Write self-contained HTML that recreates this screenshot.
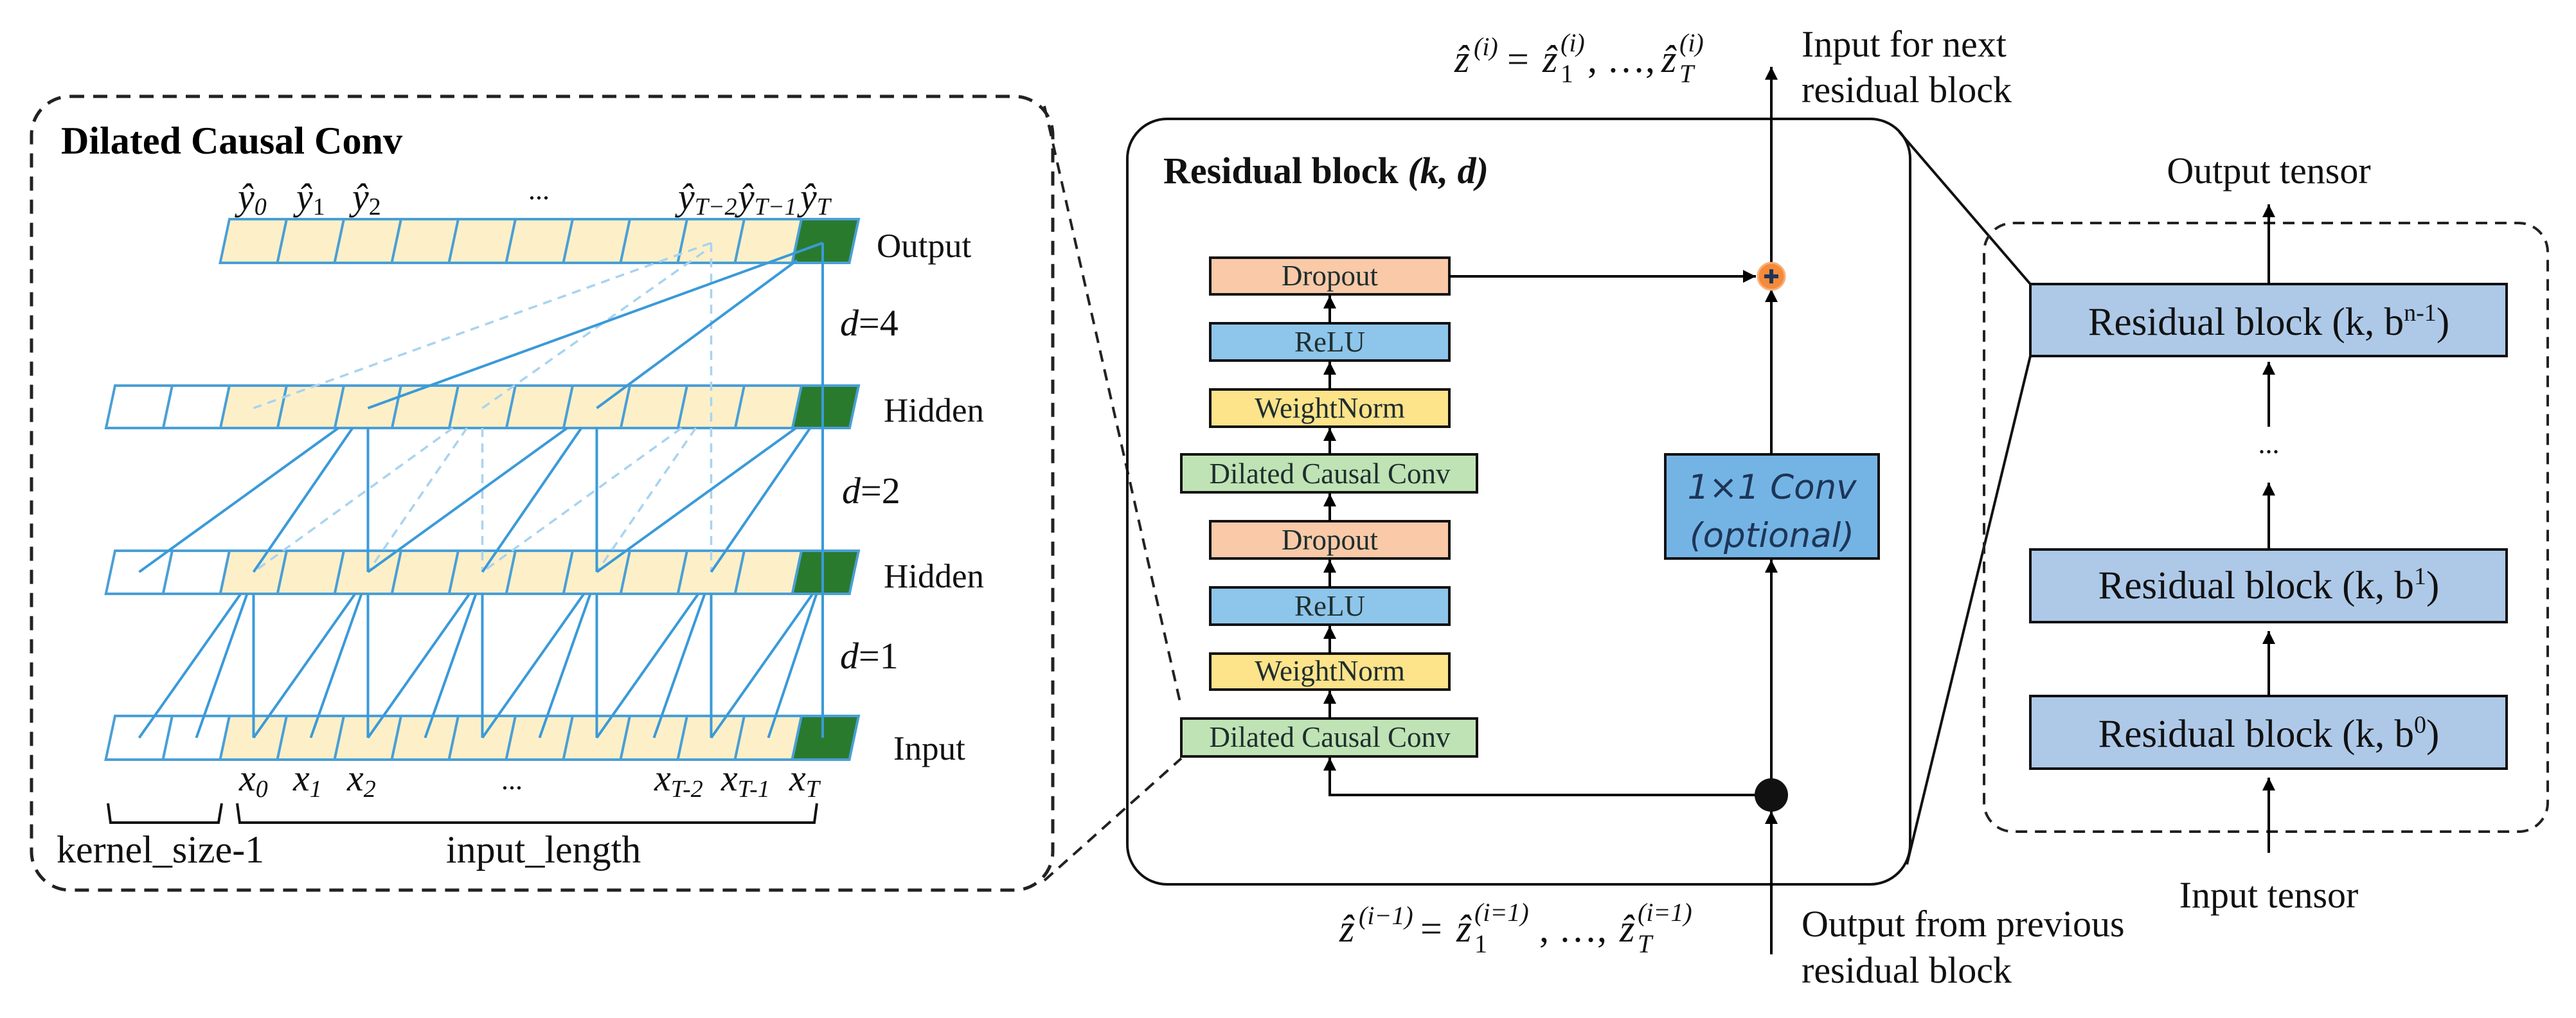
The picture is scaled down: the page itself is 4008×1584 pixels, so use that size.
<!DOCTYPE html>
<html><head><meta charset="utf-8"><style>
html,body{margin:0;padding:0;background:#fff;}
svg{display:block;}
text{font-family:"Liberation Serif",serif;}
</style></head><body>
<svg width="4008" height="1584" viewBox="0 0 4008 1584" xmlns="http://www.w3.org/2000/svg">
<defs>
<marker id="ah" viewBox="0 0 10 10" refX="10" refY="5" markerWidth="20" markerHeight="20" markerUnits="userSpaceOnUse" orient="auto"><path d="M0,0 L10,5 L0,10 z" fill="#000"/></marker>
</defs>

<rect x="49" y="150" width="1589" height="1235" rx="60" fill="none" stroke="#222" stroke-width="5" stroke-dasharray="22 14"/>
<text x="95" y="239" font-size="60" font-weight="bold" textLength="531" lengthAdjust="spacingAndGlyphs">Dilated Causal Conv</text>

<g stroke="#4a9fd6" stroke-width="4">
<g transform="translate(357,341) skewX(-12)">
<rect x="0" width="89" height="68" fill="#fdf0c8"/><rect x="89" width="89" height="68" fill="#fdf0c8"/><rect x="178" width="89" height="68" fill="#fdf0c8"/><rect x="267" width="89" height="68" fill="#fdf0c8"/><rect x="356" width="89" height="68" fill="#fdf0c8"/><rect x="445" width="89" height="68" fill="#fdf0c8"/><rect x="534" width="89" height="68" fill="#fdf0c8"/><rect x="623" width="89" height="68" fill="#fdf0c8"/><rect x="712" width="89" height="68" fill="#fdf0c8"/><rect x="801" width="89" height="68" fill="#fdf0c8"/><rect x="890" width="89" height="68" fill="#2a7a2e"/>
</g>
<g transform="translate(179,600) skewX(-12)">
<rect x="0" width="89" height="66" fill="#fff"/><rect x="89" width="89" height="66" fill="#fff"/><rect x="178" width="89" height="66" fill="#fdf0c8"/><rect x="267" width="89" height="66" fill="#fdf0c8"/><rect x="356" width="89" height="66" fill="#fdf0c8"/><rect x="445" width="89" height="66" fill="#fdf0c8"/><rect x="534" width="89" height="66" fill="#fdf0c8"/><rect x="623" width="89" height="66" fill="#fdf0c8"/><rect x="712" width="89" height="66" fill="#fdf0c8"/><rect x="801" width="89" height="66" fill="#fdf0c8"/><rect x="890" width="89" height="66" fill="#fdf0c8"/><rect x="979" width="89" height="66" fill="#fdf0c8"/><rect x="1068" width="89" height="66" fill="#2a7a2e"/>
</g>
<g transform="translate(179,857) skewX(-12)">
<rect x="0" width="89" height="67" fill="#fff"/><rect x="89" width="89" height="67" fill="#fff"/><rect x="178" width="89" height="67" fill="#fdf0c8"/><rect x="267" width="89" height="67" fill="#fdf0c8"/><rect x="356" width="89" height="67" fill="#fdf0c8"/><rect x="445" width="89" height="67" fill="#fdf0c8"/><rect x="534" width="89" height="67" fill="#fdf0c8"/><rect x="623" width="89" height="67" fill="#fdf0c8"/><rect x="712" width="89" height="67" fill="#fdf0c8"/><rect x="801" width="89" height="67" fill="#fdf0c8"/><rect x="890" width="89" height="67" fill="#fdf0c8"/><rect x="979" width="89" height="67" fill="#fdf0c8"/><rect x="1068" width="89" height="67" fill="#2a7a2e"/>
</g>
<g transform="translate(179,1114) skewX(-12)">
<rect x="0" width="89" height="68" fill="#fff"/><rect x="89" width="89" height="68" fill="#fff"/><rect x="178" width="89" height="68" fill="#fdf0c8"/><rect x="267" width="89" height="68" fill="#fdf0c8"/><rect x="356" width="89" height="68" fill="#fdf0c8"/><rect x="445" width="89" height="68" fill="#fdf0c8"/><rect x="534" width="89" height="68" fill="#fdf0c8"/><rect x="623" width="89" height="68" fill="#fdf0c8"/><rect x="712" width="89" height="68" fill="#fdf0c8"/><rect x="801" width="89" height="68" fill="#fdf0c8"/><rect x="890" width="89" height="68" fill="#fdf0c8"/><rect x="979" width="89" height="68" fill="#fdf0c8"/><rect x="1068" width="89" height="68" fill="#2a7a2e"/>
</g>
</g>

<g stroke="#a9d3f0" stroke-width="3.5" stroke-dasharray="14 10" fill="none">
<line x1="704.5" y1="666" x2="394.5" y2="890"/><line x1="726.5" y1="666" x2="572.5" y2="890"/><line x1="750.5" y1="666" x2="750.5" y2="890"/>
<line x1="1060.5" y1="666" x2="750.5" y2="890"/><line x1="1082.5" y1="666" x2="928.5" y2="890"/>
<line x1="1106.5" y1="378" x2="1106.5" y2="890"/>
<line x1="1106.5" y1="378" x2="394.5" y2="635"/><line x1="1095" y1="392" x2="750.5" y2="635"/>
</g>
<g stroke="#3a9ad9" stroke-width="4" fill="none">
<line x1="374.5" y1="924" x2="216.5" y2="1148"/><line x1="384.5" y1="924" x2="305.5" y2="1148"/><line x1="394.5" y1="924" x2="394.5" y2="1148"/>
<line x1="552.5" y1="924" x2="394.5" y2="1148"/><line x1="562.5" y1="924" x2="483.5" y2="1148"/><line x1="572.5" y1="924" x2="572.5" y2="1148"/>
<line x1="730.5" y1="924" x2="572.5" y2="1148"/><line x1="740.5" y1="924" x2="661.5" y2="1148"/><line x1="750.5" y1="924" x2="750.5" y2="1148"/>
<line x1="908.5" y1="924" x2="750.5" y2="1148"/><line x1="918.5" y1="924" x2="839.5" y2="1148"/><line x1="928.5" y1="924" x2="928.5" y2="1148"/>
<line x1="1086.5" y1="924" x2="928.5" y2="1148"/><line x1="1096.5" y1="924" x2="1017.5" y2="1148"/><line x1="1106.5" y1="924" x2="1106.5" y2="1148"/>
<line x1="1264.5" y1="924" x2="1106.5" y2="1148"/><line x1="1270.5" y1="924" x2="1195.5" y2="1148"/>
<line x1="526.5" y1="666" x2="216.5" y2="890"/><line x1="548.5" y1="666" x2="394.5" y2="890"/><line x1="572.5" y1="666" x2="572.5" y2="890"/>
<line x1="882.5" y1="666" x2="572.5" y2="890"/><line x1="904.5" y1="666" x2="750.5" y2="890"/><line x1="928.5" y1="666" x2="928.5" y2="890"/>
<line x1="1238.5" y1="666" x2="928.5" y2="890"/><line x1="1260.5" y1="666" x2="1106.5" y2="890"/>
<line x1="1280" y1="378" x2="572.5" y2="635"/><line x1="1240" y1="405" x2="928.5" y2="635"/>
<line x1="1280" y1="378" x2="1280" y2="1148"/>
</g>

<g font-size="53" fill="#111">
<text x="1364" y="400">Output</text>
<text x="1375" y="656">Hidden</text>
<text x="1375" y="914">Hidden</text>
<text x="1390" y="1182">Input</text>
</g>
<g font-size="58" fill="#111">
<text x="1307" y="522"><tspan font-style="italic">d</tspan>=4</text>
<text x="1310" y="783"><tspan font-style="italic">d</tspan>=2</text>
<text x="1307" y="1040"><tspan font-style="italic">d</tspan>=1</text>
</g>
<g font-size="58" font-style="italic" fill="#111">
<text x="370" y="326">ŷ<tspan font-size="38" dy="8">0</tspan></text>
<text x="461" y="326">ŷ<tspan font-size="38" dy="8" font-style="normal">1</tspan></text>
<text x="548" y="326">ŷ<tspan font-size="38" dy="8" font-style="normal">2</tspan></text>
<text x="822" y="310" font-style="normal" font-size="44">...</text>
<text x="1055" y="326">ŷ<tspan font-size="38" dy="8">T−2</tspan></text>
<text x="1148" y="326">ŷ<tspan font-size="38" dy="8">T−1</tspan></text>
<text x="1245" y="326">ŷ<tspan font-size="38" dy="8">T</tspan></text>
<text x="372" y="1230">x<tspan font-size="38" dy="10">0</tspan></text>
<text x="456" y="1230">x<tspan font-size="38" dy="10">1</tspan></text>
<text x="540" y="1230">x<tspan font-size="38" dy="10">2</tspan></text>
<text x="780" y="1228" font-style="normal" font-size="44">...</text>
<text x="1018" y="1230">x<tspan font-size="38" dy="10">T-2</tspan></text>
<text x="1122" y="1230">x<tspan font-size="38" dy="10">T-1</tspan></text>
<text x="1228" y="1230">x<tspan font-size="38" dy="10">T</tspan></text>
</g>
<g stroke="#111" stroke-width="4" fill="none">
<path d="M168,1250 L172,1280 L340,1280 L345,1250"/>
<path d="M369,1250 L373,1280 L1267,1280 L1271,1250"/>
</g>
<g font-size="60" fill="#111">
<text x="88" y="1342">kernel_size-1</text>
<text x="694" y="1342">input_length</text>
</g>

<g stroke="#222" stroke-width="4" stroke-dasharray="18 12" fill="none">
<line x1="1625" y1="165" x2="1838" y2="1101"/>
<line x1="1625" y1="1370" x2="1838" y2="1180"/>
</g>

<rect x="1754" y="185" width="1218" height="1191" rx="62" fill="none" stroke="#111" stroke-width="4"/>
<text x="1810" y="285" font-size="58" font-weight="bold" fill="#111">Residual block <tspan font-style="italic">(k, d)</tspan></text>

<g stroke="#111" stroke-width="4">
<rect x="1883" y="401" width="372" height="57" fill="#f9c9a8"/>
<rect x="1883" y="503" width="372" height="58" fill="#8ec5ea"/>
<rect x="1883" y="606" width="372" height="58" fill="#fde38a"/>
<rect x="1838" y="707" width="460" height="59" fill="#bfe3b4"/>
<rect x="1883" y="811" width="372" height="58" fill="#f9c9a8"/>
<rect x="1883" y="914" width="372" height="58" fill="#8ec5ea"/>
<rect x="1883" y="1017" width="372" height="56" fill="#fde38a"/>
<rect x="1838" y="1118" width="460" height="59" fill="#bfe3b4"/>
<rect x="2591" y="707" width="332" height="162" fill="#74b4e4"/>
</g>
<g font-size="45" fill="#1e2e2e" text-anchor="middle">
<text x="2069" y="444">Dropout</text>
<text x="2069" y="547">ReLU</text>
<text x="2069" y="650">WeightNorm</text>
<text x="2069" y="752">Dilated Causal Conv</text>
<text x="2069" y="855">Dropout</text>
<text x="2069" y="958">ReLU</text>
<text x="2069" y="1059">WeightNorm</text>
<text x="2069" y="1162">Dilated Causal Conv</text>
</g>
<g font-style="italic" font-size="53" fill="#1d3557" text-anchor="middle">
<text x="2757" y="776" style="font-family:'DejaVu Sans',sans-serif">1×1 Conv</text>
<text x="2757" y="851" style="font-family:'DejaVu Sans',sans-serif">(optional)</text>
</g>
<g stroke="#000" stroke-width="4" fill="none" marker-end="url(#ah)">
<line x1="2069" y1="1118" x2="2069" y2="1075"/>
<line x1="2069" y1="1017" x2="2069" y2="974"/>
<line x1="2069" y1="914" x2="2069" y2="871"/>
<line x1="2069" y1="811" x2="2069" y2="768"/>
<line x1="2069" y1="707" x2="2069" y2="666"/>
<line x1="2069" y1="606" x2="2069" y2="563"/>
<line x1="2069" y1="503" x2="2069" y2="460"/>
<path d="M2756,1237 L2069,1237 L2069,1179"/>
<line x1="2255" y1="430" x2="2732" y2="430"/>
<line x1="2756" y1="1485" x2="2756" y2="1262"/>
<line x1="2756" y1="1237" x2="2756" y2="871"/>
<line x1="2756" y1="707" x2="2756" y2="450"/>
<line x1="2756" y1="430" x2="2756" y2="104"/>
</g>
<circle cx="2756" cy="1237" r="26" fill="#111"/>
<circle cx="2756" cy="430" r="21" fill="#f58a3a" stroke="#f8b07a" stroke-width="3"/>
<path d="M2745,430 H2767 M2756,419 V441" stroke="#1d3557" stroke-width="6"/>

<g font-style="italic" fill="#111">
<text x="2263" y="112" font-size="60">ẑ</text>
<text x="2293" y="86" font-size="40">(i)</text>
<text x="2345" y="112" font-size="60" font-style="normal">=</text>
<text x="2400" y="112" font-size="60">ẑ</text>
<text x="2428" y="80" font-size="40">(i)</text>
<text x="2428" y="128" font-size="40" font-style="normal">1</text>
<text x="2470" y="112" font-size="60" font-style="normal">, …,</text>
<text x="2585" y="112" font-size="60">ẑ</text>
<text x="2613" y="80" font-size="40">(i)</text>
<text x="2613" y="128" font-size="40">T</text>

<text x="2084" y="1465" font-size="60">ẑ</text>
<text x="2114" y="1438" font-size="40">(i−1)</text>
<text x="2210" y="1465" font-size="60" font-style="normal">=</text>
<text x="2266" y="1465" font-size="60">ẑ</text>
<text x="2294" y="1433" font-size="40">(i=1)</text>
<text x="2294" y="1482" font-size="40" font-style="normal">1</text>
<text x="2395" y="1465" font-size="60" font-style="normal">, …,</text>
<text x="2520" y="1465" font-size="60">ẑ</text>
<text x="2548" y="1433" font-size="40">(i=1)</text>
<text x="2548" y="1482" font-size="40">T</text>
</g>
<g font-size="58" fill="#111">
<text x="2803" y="88">Input for next</text>
<text x="2803" y="159">residual block</text>
<text x="2803" y="1457">Output from previous</text>
<text x="2803" y="1529">residual block</text>
</g>

<g stroke="#111" stroke-width="4">
<line x1="2955" y1="205" x2="3159" y2="442"/>
<line x1="2967" y1="1345" x2="3159" y2="554"/>
</g>

<rect x="3087" y="347" width="877" height="947" rx="45" fill="none" stroke="#222" stroke-width="4" stroke-dasharray="18 12"/>
<g stroke="#111" stroke-width="4" fill="#aec9e8">
<rect x="3159" y="442" width="741" height="112"/>
<rect x="3159" y="855" width="741" height="113"/>
<rect x="3159" y="1083" width="741" height="113"/>
</g>
<g font-size="61" fill="#111" text-anchor="middle">
<text x="3530" y="521">Residual block (k, b<tspan font-size="38" dy="-22">n-1</tspan><tspan dy="22">)</tspan></text>
<text x="3530" y="931">Residual block (k, b<tspan font-size="38" dy="-22">1</tspan><tspan dy="22">)</tspan></text>
<text x="3530" y="1162">Residual block (k, b<tspan font-size="38" dy="-22">0</tspan><tspan dy="22">)</tspan></text>
<text x="3530" y="285" font-size="58">Output tensor</text>
<text x="3530" y="1412" font-size="58">Input tensor</text>
<text x="3530" y="705" font-size="44">...</text>
</g>
<g stroke="#000" stroke-width="4" fill="none" marker-end="url(#ah)">
<line x1="3530" y1="442" x2="3530" y2="318"/>
<line x1="3530" y1="664" x2="3530" y2="563"/>
<line x1="3530" y1="853" x2="3530" y2="751"/>
<line x1="3530" y1="1083" x2="3530" y2="982"/>
<line x1="3530" y1="1327" x2="3530" y2="1210"/>
</g>
</svg>
</body></html>
